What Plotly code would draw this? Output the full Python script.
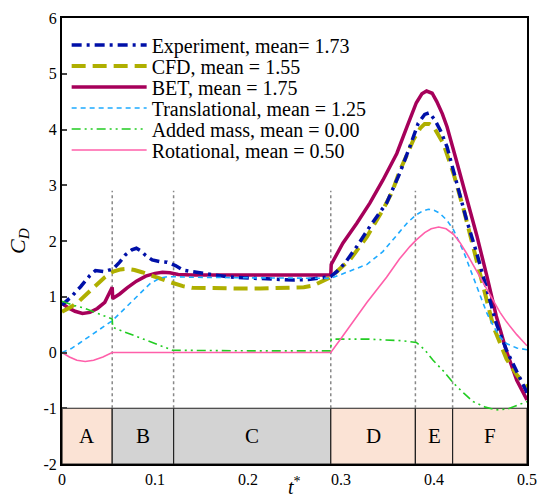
import plotly.graph_objects as go

# ---------------- data ----------------
exp_t = [0.0, 0.01, 0.02, 0.03, 0.036, 0.045, 0.055, 0.062, 0.068, 0.075, 0.08, 0.085, 0.09, 0.097,
         0.105, 0.113, 0.122, 0.13, 0.14, 0.152, 0.165, 0.177, 0.195, 0.213, 0.23, 0.249, 0.265,
         0.277, 0.289, 0.296, 0.304, 0.317, 0.331, 0.349, 0.363, 0.374, 0.383, 0.39, 0.395, 0.401,
         0.407, 0.414, 0.424, 0.435, 0.446, 0.457, 0.467, 0.478, 0.489, 0.5]
exp_c = [0.85, 1.0, 1.18, 1.38, 1.47, 1.45, 1.50, 1.62, 1.75, 1.84, 1.87, 1.82, 1.74, 1.66,
         1.63, 1.62, 1.56, 1.48, 1.45, 1.42, 1.38, 1.36, 1.34, 1.33, 1.31, 1.30, 1.31,
         1.33, 1.36, 1.46, 1.60, 1.90, 2.26, 2.68, 3.21, 3.69, 4.11, 4.27, 4.30, 4.17,
         3.98, 3.69, 3.05, 2.38, 1.78, 1.12, 0.52, 0.04, -0.33, -0.72]

cfd_t = [0.0, 0.01, 0.019, 0.028, 0.037, 0.046, 0.055, 0.063, 0.07, 0.078, 0.086, 0.095, 0.105,
         0.113, 0.12, 0.13, 0.14, 0.159, 0.185, 0.213, 0.24, 0.26, 0.27, 0.277, 0.284, 0.289,
         0.3, 0.31, 0.328, 0.345, 0.355, 0.363, 0.371, 0.378, 0.385, 0.39, 0.395, 0.4, 0.41,
         0.421, 0.432, 0.442, 0.453, 0.464, 0.478, 0.489, 0.5]
cfd_c = [0.73, 0.82, 0.93, 1.07, 1.21, 1.35, 1.45, 1.49, 1.50, 1.48, 1.44, 1.38, 1.33,
         1.28, 1.24, 1.19, 1.16, 1.15, 1.15, 1.15, 1.16, 1.17, 1.20, 1.25, 1.30, 1.35,
         1.52, 1.67, 2.08, 2.56, 2.88, 3.25, 3.55, 3.82, 4.02, 4.10, 4.10, 4.04, 3.75,
         3.21, 2.56, 1.90, 1.18, 0.46, -0.12, -0.40, -0.63]

bet_t = [0.0, 0.007, 0.014, 0.022, 0.03, 0.038, 0.046, 0.054, 0.0545, 0.062, 0.07, 0.08, 0.09,
         0.1, 0.108, 0.116, 0.125, 0.14, 0.2, 0.289, 0.2895, 0.295, 0.302, 0.317, 0.331, 0.345,
         0.36, 0.371, 0.381, 0.387, 0.392, 0.398, 0.403, 0.409, 0.414, 0.424, 0.435, 0.446,
         0.457, 0.467, 0.478, 0.489, 0.5]
bet_c = [0.88, 0.80, 0.74, 0.70, 0.72, 0.79, 0.90, 1.17, 0.97, 1.05, 1.16, 1.28, 1.37,
         1.42, 1.44, 1.43, 1.40, 1.39, 1.39, 1.39, 1.58, 1.75, 1.96, 2.32, 2.68, 3.09,
         3.57, 4.05, 4.48, 4.64, 4.69, 4.65, 4.50, 4.28, 4.05, 3.45, 2.80, 2.10,
         1.36, 0.65, 0.02, -0.50, -0.85]

tra_t = [0.0, 0.01, 0.019, 0.028, 0.037, 0.046, 0.054, 0.062, 0.07, 0.078, 0.087, 0.095, 0.105,
         0.113, 0.12, 0.14, 0.2, 0.26, 0.289, 0.3, 0.31, 0.328, 0.345, 0.355, 0.363, 0.372,
         0.381, 0.388, 0.394, 0.4, 0.406, 0.414, 0.421, 0.432, 0.442, 0.45, 0.457, 0.464,
         0.471, 0.478, 0.489, 0.5]
tra_c = [0.0, 0.07, 0.17, 0.27, 0.38, 0.47, 0.57, 0.70, 0.83, 0.97, 1.12, 1.24, 1.33,
         1.36, 1.36, 1.35, 1.34, 1.33, 1.33, 1.40, 1.46, 1.58, 1.81, 2.0, 2.17, 2.34,
         2.47, 2.54, 2.57, 2.55, 2.50, 2.37, 2.20, 1.80, 1.36, 1.0, 0.70, 0.47,
         0.28, 0.16, 0.08, 0.05]

add_t = [0.0, 0.012, 0.025, 0.039, 0.054, 0.0545, 0.077, 0.098, 0.119, 0.2, 0.289, 0.2895, 0.33,
         0.367, 0.381, 0.39, 0.399, 0.41, 0.421, 0.432, 0.442, 0.455, 0.467, 0.48, 0.49, 0.5]
add_c = [0.92, 0.85, 0.79, 0.70, 0.60, 0.45, 0.31, 0.18, 0.04, 0.03, 0.03, 0.24, 0.24,
         0.21, 0.18, 0.05, -0.14, -0.33, -0.55, -0.73, -0.88, -0.98, -1.03, -1.01, -0.95, -0.88]

rot_t = [0.0, 0.008, 0.016, 0.025, 0.034, 0.044, 0.054, 0.289, 0.3, 0.313, 0.328, 0.349, 0.363,
         0.374, 0.381, 0.39, 0.397, 0.405, 0.413, 0.421, 0.428, 0.435, 0.442, 0.449, 0.458,
         0.464, 0.471, 0.478, 0.489, 0.5]
rot_c = [0.0, -0.08, -0.14, -0.16, -0.14, -0.08, 0.0, 0.0, 0.25, 0.55, 0.90, 1.35, 1.68,
         1.90, 2.02, 2.15, 2.22, 2.25, 2.22, 2.12, 1.97, 1.78, 1.57, 1.36, 1.10,
         0.92, 0.72, 0.55, 0.32, 0.12]

phase_names = ["A", "B", "C", "D", "E", "F"]
phase_edges = [0.0, 0.054, 0.12, 0.289, 0.38, 0.42, 0.5]
phase_colors = ["#FBE3D5", "#D3D3D3", "#D3D3D3", "#FBE3D5", "#FBE3D5", "#FBE3D5"]

y_ticks = [-2, -1, 0, 1, 2, 3, 4, 5, 6]
y_tick_text = ["-2", "-1", "0", "1", "2", "3", "4", "5", "6"]
x_ticks = [0, 0.1, 0.2, 0.3, 0.4, 0.5]
x_tick_text = ["0", "0.1", "0.2", "0.3", "0.4", "0.5"]

series = [
    # name, t, c, color, width, dash, legend slot (0 = top)
    ("BET, mean = 1.75", bet_t, bet_c, "#A6005A", 3.5, "solid", 2),
    ("CFD, mean = 1.55", cfd_t, cfd_c, "#AFAF00", 4, "14px,7px", 1),
    ("Experiment, mean= 1.73", exp_t, exp_c, "#0010A8", 3.5, "10px,5px,3px,5px", 0),
    ("Translational, mean = 1.25", tra_t, tra_c, "#1EAAFF", 1.6, "5px,4px", 3),
    ("Added mass, mean = 0.00", add_t, add_c, "#22CC22", 1.6, "9px,4px,2px,4px,2px,4px", 4),
    ("Rotational, mean = 0.50", rot_t, rot_c, "#FF5FAA", 1.6, "solid", 5),
]

FONT = "Liberation Serif"
fig = go.Figure()
legend_ids = ["legend", "legend2", "legend3", "legend4", "legend5", "legend6"]
for name, t, c, col, w, dash, slot in series:
    fig.add_trace(go.Scatter(x=t, y=c, mode="lines", name=name, legend=legend_ids[slot],
                             line=dict(color=col, width=w, dash=dash)))

shapes = []
annotations = []
for i, nm in enumerate(phase_names):
    x0, x1 = phase_edges[i], phase_edges[i + 1]
    shapes.append(dict(type="rect", xref="x", yref="y", x0=x0, x1=x1, y0=-2, y1=-1,
                       fillcolor=phase_colors[i], line=dict(color="#222", width=1.2), layer="below"))
    annotations.append(dict(x=(x0 + x1) / 2, y=-1.5, xref="x", yref="y", text=nm, showarrow=False,
                            font=dict(family=FONT, size=21, color="black")))
for e in phase_edges[1:-1]:
    shapes.append(dict(type="line", xref="x", yref="y", x0=e, x1=e, y0=-1, y1=2.9,
                       line=dict(color="#888888", width=1.5, dash="dot"), layer="below"))

# x-axis title
annotations.append(dict(x=0.5, y=-0.0807, xref="paper", yref="paper", text="<i>t</i><sup>*</sup>",
                        showarrow=False, yanchor="bottom",
                        font=dict(family=FONT, size=20, color="black")))

PLOT_TOP, PLOT_H = 18, 446
legend_rows_px = [45, 66, 87, 108, 129, 150]
layout_legends = {}
for lid, ypx in zip(legend_ids, legend_rows_px):
    layout_legends[lid] = dict(x=0.01, y=1 - (ypx - PLOT_TOP) / PLOT_H, xanchor="left",
                               yanchor="middle", bgcolor="rgba(0,0,0,0)",
                               font=dict(family=FONT, size=20, color="black"), itemwidth=75)

fig.update_layout(
    width=540, height=501,
    margin=dict(l=62, r=13, t=18, b=37, autoexpand=False),
    paper_bgcolor="white", plot_bgcolor="white",
    font=dict(family=FONT, size=15, color="black"),
    shapes=shapes, annotations=annotations,
    showlegend=True,
    **layout_legends,
)
fig.update_xaxes(range=[0, 0.5], tickvals=x_ticks, ticktext=x_tick_text, ticks="",
                 showgrid=False, zeroline=False, showline=True, linecolor="black", linewidth=2,
                 mirror=True, tickfont=dict(family=FONT, size=16), automargin=False)
fig.update_yaxes(range=[-2, 6], tickvals=y_ticks, ticktext=y_tick_text, ticks="inside", ticklen=5,
                 tickwidth=2, showgrid=False, zeroline=False, showline=True, linecolor="black",
                 linewidth=2, mirror=True, tickfont=dict(family=FONT, size=16), automargin=False,
                 title=dict(text="<i>C<sub>D</sub></i>", font=dict(family=FONT, size=22), standoff=12))

fig.write_html("out.html")
